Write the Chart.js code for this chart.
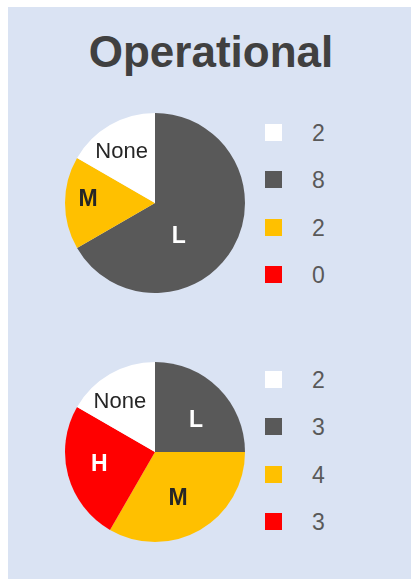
<!DOCTYPE html>
<html>
<head>
<meta charset="utf-8">
<script src="https://cdn.jsdelivr.net/npm/chart.js@4"></script>
<style>
  html, body { margin: 0; padding: 0; background: #fff; }
  body { width: 411px; height: 579px; position: relative; overflow: hidden; font-family: "Liberation Sans", Arial, sans-serif; }
  #panel { position: absolute; left: 8px; top: 7px; right: 0; bottom: 0; background: #dae3f3; }
  #title { position: absolute; left: 0; width: 422px; top: 22px; text-align: center; font-weight: bold; font-size: 44px; color: #404040; line-height: 60px; }
  .pie { position: absolute; left: 60px; width: 190px; height: 190px; }
  .legend { position: absolute; left: 265px; }
  .row { position: absolute; left: 0; height: 24px; width: 100px; }
  .sw { position: absolute; left: 0; top: 3px; width: 17px; height: 17px; }
  .num { position: absolute; left: 47px; top: -2px; font-size: 23px; color: #595959; line-height: 28px; }
</style>
</head>
<body>
<div id="panel"></div>
<div id="title">Operational</div>
<div class="pie" style="top:108px"><canvas id="pie1" width="190" height="190"></canvas></div>
<div class="pie" style="top:357px"><canvas id="pie2" width="190" height="190"></canvas></div>
<div class="legend" id="legend1" style="top:121px"></div>
<div class="legend" id="legend2" style="top:368px"></div>
<script>
// drawing order (clockwise from 12 o'clock)
const categories = ['L', 'M', 'H', 'None'];
const counts1 = [8, 2, 0, 2];
const counts2 = [3, 4, 3, 2];
// legend order
const legendOrder = ['None', 'L', 'M', 'H'];

const colores = { L: '#595959', M: '#ffc000', H: '#ff0000', None: '#ffffff' };
const textoColor = { L: '#ffffff', M: '#262626', H: '#ffffff', None: '#262626' };
const textoPeso = { L: 'bold', M: 'bold', H: 'bold', None: 'normal' };

// label placement inside each slice: [radius fraction, angle shift in degrees]
const etiquetas1 = { L: [0.46, 25], M: [0.745, 2.6], H: [0.6, 0], None: [0.68, -3] };
const etiquetas2 = { L: [0.575, 7.5], M: [0.58, 3.7], H: [0.635, 2.4], None: [0.68, -5] };

const pluginEtiquetas = {
    id: 'etiquetas',
    afterDatasetsDraw(chart, args, opts) {
        const ctx = chart.ctx;
        const meta = chart.getDatasetMeta(0);
        meta.data.forEach((arc, i) => {
            const cat = categories[i];
            if (!chart.data.datasets[0].data[i]) return;
            const [fr, shift] = opts.place[cat];
            const mid = (arc.startAngle + arc.endAngle) / 2 + shift * Math.PI / 180;
            const r = arc.outerRadius * fr;
            const x = arc.x + Math.cos(mid) * r;
            const y = arc.y + Math.sin(mid) * r;
            ctx.save();
            ctx.fillStyle = textoColor[cat];
            ctx.font = textoPeso[cat] + ' ' + (cat === 'None' ? 22 : 23) + 'px "Liberation Sans", Arial, sans-serif';
            ctx.textAlign = 'center';
            ctx.textBaseline = 'middle';
            ctx.fillText(cat, x, y);
            ctx.restore();
        });
    }
};

function renderPie(id, data, place) {
    const ctx = document.getElementById(id).getContext('2d');
    return new Chart(ctx, {
        type: 'pie',
        data: {
            labels: categories,
            datasets: [{
                data,
                backgroundColor: categories.map(c => colores[c]),
                borderWidth: 0
            }]
        },
        options: {
            responsive: false,
            animation: false,
            radius: 90,
            layout: { padding: 0 },
            plugins: {
                legend: { display: false },
                tooltip: { enabled: false },
                etiquetas: { place }
            }
        },
        plugins: [pluginEtiquetas]
    });
}

function renderLeyenda(id, data) {
    const cont = document.getElementById(id);
    legendOrder.forEach((cat, k) => {
        const row = document.createElement('div');
        row.className = 'row';
        row.style.top = (k * 47.3) + 'px';
        const sw = document.createElement('div');
        sw.className = 'sw';
        sw.style.background = colores[cat];
        const num = document.createElement('div');
        num.className = 'num';
        num.textContent = data[categories.indexOf(cat)];
        row.appendChild(sw);
        row.appendChild(num);
        cont.appendChild(row);
    });
}

renderPie('pie1', counts1, etiquetas1);
renderPie('pie2', counts2, etiquetas2);
renderLeyenda('legend1', counts1);
renderLeyenda('legend2', counts2);
</script>
</body>
</html>
